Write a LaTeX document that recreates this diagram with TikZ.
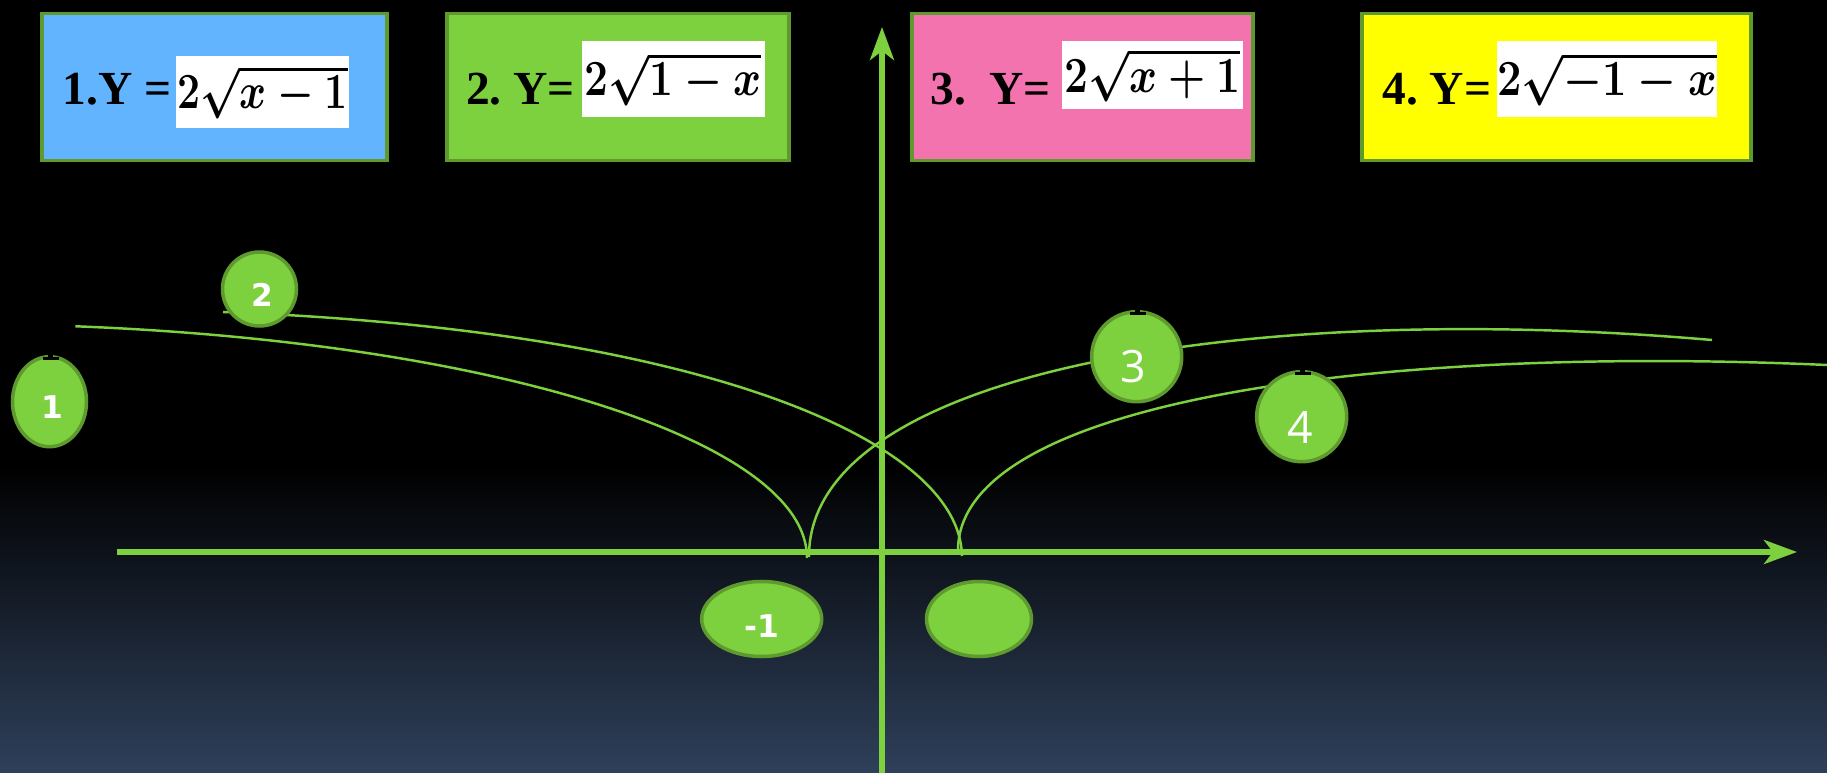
\documentclass[tikz,border=0pt]{standalone}
\usepackage{fontspec}
\usepackage{graphicx}
\usetikzlibrary{arrows.meta,shapes.geometric,positioning,calc}
\setmainfont{Liberation Serif}
\newfontfamily\lblfont{DejaVu Sans}
\newfontfamily\numfont{Open Sans}
\definecolor{LeafGreen}{HTML}{7ED13E}
\definecolor{LeafEdge}{HTML}{5E9A2E}
\definecolor{SkyBlue}{HTML}{62B4FE}
\definecolor{RosePink}{HTML}{F373AE}
\definecolor{LemonYellow}{HTML}{FFFF00}
\definecolor{NightBlue}{HTML}{2F405B}
\newcommand{\eqmath}[2][0.81]{\scalebox{#1}[1]{\boldmath$#2$}}
\frenchspacing

\begin{document}
\begin{tikzpicture}[x=0.1mm,y=-0.1mm,
  eqbox/.style={draw=LeafEdge,line width=1.1pt,minimum height=1.47cm,inner sep=0pt},
  whitebox/.style={fill=white,inner sep=0pt,font=\fontsize{14.5}{17}\selectfont},
  eqtext/.style={anchor=base west,inner sep=0pt,font=\fontsize{13.5}{16}\selectfont\bfseries},
  dot/.style={ellipse,draw=LeafEdge,fill=LeafGreen,line width=1pt,inner sep=0pt},
  numtxt/.style={text=white,inner sep=0pt,font=\lblfont\bfseries\fontsize{8.9}{10}\selectfont},
  bignum/.style={text=white,inner sep=0pt,font=\numfont\fontsize{12.7}{14}\selectfont},
  graph/.style={LeafGreen,line width=0.7pt},
  axis/.style={LeafGreen,line width=1.5pt,-{Stealth[length=3.3mm,width=2.4mm,inset=0.9mm]}},
  notch/.style={fill=black}]
  \useasboundingbox (0,0) rectangle (1827,773);
  % background
  \fill[black] (0,0) rectangle (1827,466);
  \shade[top color=black,bottom color=NightBlue] (0,465) rectangle (1827,773);

  % graphs
  \draw[graph] (807,558) arc[start angle=0,end angle=82,x radius=8.5cm,y radius=2.34cm];
  \draw[graph] (962,556) .. controls (960,440) and (700,330) .. (223,312);
  \draw[graph] (809,557) .. controls (808,370) and (1250,300) .. (1712,340);
  \draw[graph] (958,551) .. controls (957,400) and (1380,345) .. (1827,365);

  % axes
  \coordinate (xl) at (117,552);
  \coordinate (xr) at (1797,552);
  \coordinate (yb) at (882,773);
  \coordinate (yt) at (882,27);
  \draw[axis] (xl) -- (xr);
  \draw[axis] (yb) -- (yt);

  % markers
  \node[dot,minimum width=0.74cm,minimum height=0.90cm] (d1) at (49.5,401.7) {};
  \node[dot,minimum width=0.74cm,minimum height=0.74cm] (d2) at (259.5,289) {};
  \node[dot,minimum width=0.90cm,minimum height=0.90cm] (d3) at (1136.7,356.7) {};
  \node[dot,minimum width=0.90cm,minimum height=0.90cm] (d4) at (1301.7,416.7) {};
  \node[dot,minimum width=1.20cm,minimum height=0.75cm] (dm) at (761.7,619) {};
  \node[dot,minimum width=1.05cm,minimum height=0.75cm] (dz) at (979,619) {};
  \node[numtxt] at (52,407.5) {1};
  \node[numtxt] at (262.5,295) {2};
  \node[bignum] at (1133.7,367) {3};
  \node[bignum] at (1300,427) {4};
  \node[numtxt] at (761.8,626) {-1};
  \foreach \d in {d1,d3,d4}{
    \fill[notch] ($(\d.north)+(-2,-4)$) rectangle ++(5,9);
    \fill[notch] ($(\d.north)+(-7,2)$) rectangle ++(16,3);
  }

  % formula boxes
  \node[eqbox,fill=SkyBlue,minimum width=3.45cm] (b1) at (214.5,87) {};
  \node[eqbox,fill=LeafGreen,minimum width=3.42cm] (b2) at (618,87) {};
  \node[eqbox,fill=RosePink,minimum width=3.41cm] (b3) at (1082.5,87) {};
  \node[eqbox,fill=LemonYellow,minimum width=3.89cm] (b4) at (1556.5,87) {};
  \node[eqtext] (t1) at (62,104) {1.Y =};
  \node[eqtext] (t2) at (465.5,104) {2. Y=};
  \node[eqtext] (t3) at (929.6,104) {3.~ Y=};
  \node[eqtext] (t4) at (1381.7,104) {4. Y=};
  \node[whitebox,minimum width=1.73cm,minimum height=0.72cm] (w1) at (262.5,92) {\eqmath{2\sqrt{x-1}}};
  \node[whitebox,minimum width=1.83cm,minimum height=0.757cm] (w2) at (673,78.9) {\eqmath[0.84]{2\sqrt{1-x}}};
  \node[whitebox,minimum width=1.81cm,minimum height=0.68cm] (w3) at (1152.5,75) {\eqmath[0.84]{2\sqrt{x+1}}};
  \node[whitebox,minimum width=2.20cm,minimum height=0.757cm] (w4) at (1607,78.9) {\eqmath[0.86]{2\sqrt{-1-x}}};
\end{tikzpicture}
\end{document}
